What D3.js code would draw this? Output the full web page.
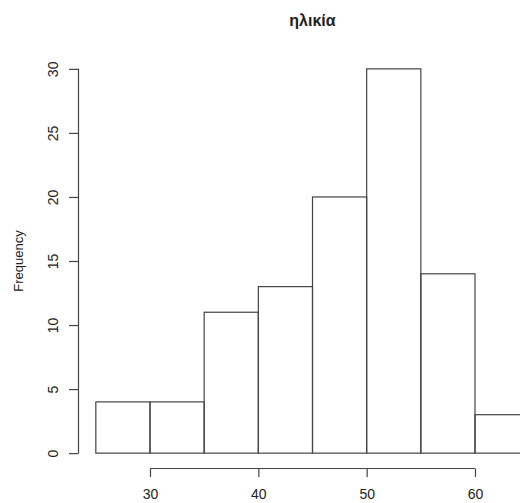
<!DOCTYPE html>
<html>
<head>
<meta charset="utf-8">
<script src="https://cdn.jsdelivr.net/npm/d3@7"></script>
<style>
  body { margin: 0; background: #fff; }
  text { font-family: "Liberation Sans", Arial, sans-serif; fill: #222; }
</style>
</head>
<body>
<svg width="520" height="503"></svg>
<script>
// histogram data
var breaks = [25, 30, 35, 40, 45, 50, 55, 60, 65];
var counts = [4, 4, 11, 13, 20, 30, 14, 3];
var xTicks = [30, 40, 50, 60];
var yTicks = [0, 5, 10, 15, 20, 25, 30];
var title = "ηλικία";
var yLabel = "Frequency";

var svg = d3.select("svg");

// R style plot region: usr range is data range +/- 4%
var x = d3.scaleLinear()
    .domain([23.4, 66.6])
    .range([78.5, 546.5]);
var y = d3.scaleLinear()
    .domain([-1.2, 31.2])
    .range([468.5, 53.5]);

var bins = counts.map(function(c, i) {
    return { x0: breaks[i], x1: breaks[i + 1], count: c };
});

// bars
svg.append("g")
    .selectAll("rect")
    .data(bins)
    .enter().append("rect")
    .attr("x", function(d) { return x(d.x0); })
    .attr("y", function(d) { return y(d.count); })
    .attr("width", function(d) { return x(d.x1) - x(d.x0); })
    .attr("height", function(d) { return y(0) - y(d.count); })
    .attr("fill", "none")
    .attr("stroke", "#444")
    .attr("stroke-width", 1.2);

// x axis
var xAxis = svg.append("g")
    .attr("transform", "translate(0," + y(-1.2) + ")")
    .call(d3.axisBottom(x).tickValues(xTicks).tickSize(8.5).tickPadding(12));
xAxis.select(".domain").remove();
xAxis.append("line")
    .attr("x1", x(xTicks[0])).attr("x2", x(xTicks[xTicks.length - 1]));
xAxis.selectAll("line").attr("stroke", "#444").attr("stroke-width", 1.2);
xAxis.selectAll("text")
    .attr("fill", "#222")
    .style("font-size", "14px")
    .style("font-family", "Liberation Sans, Arial, sans-serif");

// y axis
var yAxis = svg.append("g")
    .attr("transform", "translate(" + x(23.4) + ",0)")
    .call(d3.axisLeft(y).tickValues(yTicks).tickSize(9.5).tickFormat(d3.format("d")));
yAxis.select(".domain").remove();
yAxis.append("line")
    .attr("y1", y(yTicks[0])).attr("y2", y(yTicks[yTicks.length - 1]));
yAxis.selectAll("line").attr("stroke", "#444").attr("stroke-width", 1.2);
yAxis.selectAll(".tick text")
    .attr("x", null).attr("dy", null)
    .attr("text-anchor", "middle")
    .attr("transform", "translate(-21,0) rotate(-90)")
    .attr("fill", "#222")
    .style("font-size", "14px")
    .style("font-family", "Liberation Sans, Arial, sans-serif");

// title
svg.append("text")
    .attr("x", (x(23.4) + x(66.6)) / 2)
    .attr("y", 26)
    .attr("text-anchor", "middle")
    .style("font-size", "16px")
    .style("font-weight", "bold")
    .text(title);

// y label
svg.append("text")
    .attr("transform", "translate(23," + (y(-1.2) + y(31.2)) / 2 + ") rotate(-90)")
    .attr("text-anchor", "middle")
    .style("font-size", "13px")
    .text(yLabel);
</script>
</body>
</html>
